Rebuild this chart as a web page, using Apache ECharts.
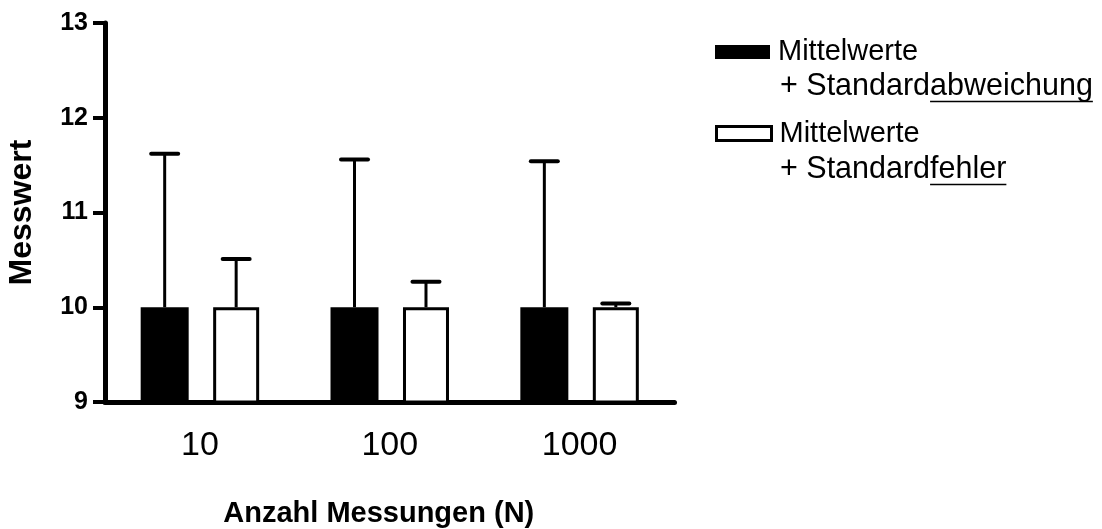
<!DOCTYPE html>
<html>
<head>
<meta charset="utf-8">
<script src="https://cdn.jsdelivr.net/npm/echarts@6/dist/echarts.min.js"></script>
<style>
html,body{margin:0;padding:0;background:#fff;}
#chart{width:1102px;height:529px;}
</style>
</head>
<body>
<div id="chart"></div>
<script>
// ---- data ----
const categories = ['10', '100', '1000'];
const meanSD = [10, 10, 10];
const upperSD = [11.62, 11.56, 11.54];
const meanSE = [10, 10, 10];
const upperSE = [10.51, 10.27, 10.04];
const yMin = 9, yMax = 13, yStep = 1;
const seriesNames = ['Mittelwerte + Standardabweichung', 'Mittelwerte + Standardfehler'];
const legendLine1 = 'Mittelwerte';
const legendLine2a = ['+ Standard', '+ Standard'];
const legendLine2b = ['abweichung', 'fehler'];
const xName = 'Anzahl Messungen (N)';
const yName = 'Messwert';

// ---- style constants ----
const FONT = '"Liberation Sans", Arial, Helvetica, sans-serif';
const W_SD = 48, W_SE = 46, GAP = 0.51;
const widthSum = W_SD * (1 + GAP) + W_SE;
const OFF_SD = -widthSum / 2 + W_SD / 2;
const OFF_SE = -widthSum / 2 + W_SD * (1 + GAP) + W_SE / 2;
const CAP = 27;

function errRender(offset) {
  return function (params, api) {
    const xi = api.value(0);
    const base = api.coord([xi, api.value(1)]);
    const top = api.coord([xi, api.value(2)]);
    const x = base[0] + offset;
    return {
      type: 'group',
      children: [
        { type: 'line', shape: { x1: x, y1: base[1], x2: x, y2: top[1] },
          style: { stroke: '#000', lineWidth: 3 } },
        { type: 'line', shape: { x1: x - CAP / 2, y1: top[1], x2: x + CAP / 2, y2: top[1] },
          style: { stroke: '#000', lineWidth: 4, lineCap: 'round' } }
      ]
    };
  };
}

const chart = echarts.init(document.getElementById('chart'), null, { renderer: 'canvas' });

// measure text widths for underline placement
const mctx = document.createElement('canvas').getContext('2d');
const L2_SIZE = 30.5;
mctx.font = L2_SIZE + 'px ' + FONT;
const L2_X = 780;
const L2_Y = [86.5, 169.5];
const graphics = [];
for (let i = 0; i < 2; i++) {
  const wa = mctx.measureText(legendLine2a[i]).width;
  const wb = mctx.measureText(legendLine2b[i]).width;
  graphics.push({
    type: 'text', left: L2_X, top: L2_Y[i] - L2_SIZE / 2,
    style: { text: legendLine2a[i], font: L2_SIZE + 'px ' + FONT, fill: '#000' }
  });
  graphics.push({
    type: 'text', left: L2_X + wa, top: L2_Y[i] - L2_SIZE / 2,
    style: { text: legendLine2b[i], font: L2_SIZE + 'px ' + FONT, fill: '#000' }
  });
  graphics.push({
    type: 'line', shape: { x1: L2_X + wa, y1: L2_Y[i] + 15, x2: L2_X + wa + wb, y2: L2_Y[i] + 15 },
    style: { stroke: '#000', lineWidth: 1.5 }
  });
}

const legendCommon = {
  orient: 'vertical', left: 715, padding: 0, itemWidth: 55, itemHeight: 14, icon: 'rect',
  selectedMode: false,
  formatter: function () { return legendLine1; },
  textStyle: { fontFamily: FONT, fontSize: 29, color: '#000', padding: [0, 0, 0, 3] }
};

chart.setOption({
  animation: false,
  backgroundColor: '#fff',
  grid: { left: 105, right: 427.5, top: 23, bottom: 127, containLabel: false, outerBoundsMode: 'none' },
  legend: [
    Object.assign({}, legendCommon, { top: 37.5, data: [seriesNames[0]] }),
    Object.assign({}, legendCommon, { top: 119, data: [{ name: seriesNames[1], itemStyle: { color: '#fff', borderColor: '#000', borderWidth: 3 } }] })
  ],
  xAxis: {
    type: 'category', data: categories,
    axisLine: { lineStyle: { color: '#000', width: 5, cap: 'round' } },
    axisTick: { show: false },
    axisLabel: { fontFamily: FONT, fontSize: 34, color: '#000', margin: 27 },
    name: xName, nameLocation: 'middle', nameGap: 97,
    nameTextStyle: { fontFamily: FONT, fontSize: 29, fontWeight: 'bold', color: '#000', padding: [0, 22, 0, 0] }
  },
  yAxis: {
    type: 'value', min: yMin, max: yMax, interval: yStep,
    axisLine: { show: true, lineStyle: { color: '#000', width: 5, cap: 'round' } },
    axisTick: { show: true, length: 12, lineStyle: { color: '#000', width: 4 } },
    splitLine: { show: false },
    axisLabel: { fontFamily: FONT, fontSize: 25, fontWeight: 'bold', color: '#000', margin: 17 },
    name: yName, nameLocation: 'middle', nameGap: 67,
    nameTextStyle: { fontFamily: FONT, fontSize: 32, fontWeight: 'bold', color: '#000' }
  },
  series: [
    { name: seriesNames[0], type: 'bar', data: meanSD, barWidth: W_SD, barGap: (GAP * 100) + '%',
      itemStyle: { color: '#000' } },
    { name: seriesNames[1], type: 'bar', data: meanSE, barWidth: W_SE,
      itemStyle: { color: '#fff', borderColor: '#000', borderWidth: 3 } },
    { type: 'custom', renderItem: errRender(OFF_SD), z: 3,
      data: categories.map((c, i) => [i, meanSD[i], upperSD[i]]), encode: { x: 0, y: 2 } },
    { type: 'custom', renderItem: errRender(OFF_SE), z: 3,
      data: categories.map((c, i) => [i, meanSE[i], upperSE[i]]), encode: { x: 0, y: 2 } }
  ],
  graphic: graphics
});
</script>
</body>
</html>
